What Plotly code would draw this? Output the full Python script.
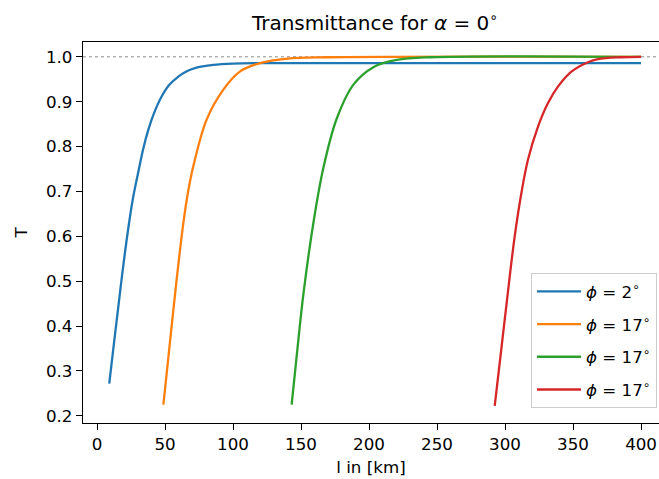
import plotly.graph_objects as go

# Transmittance curves T(l) for alpha = 0 deg, one per observation angle phi
labels = ["<i>ϕ</i> = 2<sup>∘</sup>", "<i>ϕ</i> = 17<sup>∘</sup>",
          "<i>ϕ</i> = 17<sup>∘</sup>", "<i>ϕ</i> = 17<sup>∘</sup>"]
colors = ["#1f77b4", "#ff7f0e", "#2ca02c", "#d62728"]

l_blue = [9, 12, 15.7, 19, 23, 26.5, 30.4, 34, 37.7, 42, 47.6, 53, 59.8, 66, 72, 85.5, 100, 120, 400]
t_blue = [0.272, 0.350, 0.444, 0.527, 0.618, 0.686, 0.744, 0.795, 0.837, 0.875, 0.912, 0.937,
          0.956, 0.968, 0.975, 0.982, 0.985, 0.986, 0.986]

l_orange = [48.8, 53.7, 58.6, 63.5, 67, 70.8, 80.6, 92.9, 105, 119.9, 140, 170, 400]
t_orange = [0.225, 0.366, 0.505, 0.630, 0.700, 0.756, 0.860, 0.927, 0.967, 0.986, 0.996, 0.999, 1.0]

l_green = [143.1, 146.8, 151.7, 159, 166.4, 176.2, 188.5, 203.2, 220.4, 245, 400]
t_green = [0.225, 0.333, 0.470, 0.628, 0.752, 0.862, 0.938, 0.977, 0.993, 0.999, 1.0]

l_red = [292.4, 297.3, 302.2, 307.1, 312, 316.9, 324.3, 331.6, 339, 348.8, 361, 368.4, 385, 400]
t_red = [0.222, 0.350, 0.478, 0.600, 0.696, 0.771, 0.845, 0.897, 0.934, 0.967, 0.988, 0.995, 0.999, 1.0]

x_ticks = [0, 50, 100, 150, 200, 250, 300, 350, 400]
y_ticks = [0.2, 0.3, 0.4, 0.5, 0.6, 0.7, 0.8, 0.9, 1.0]

series = [(l_blue, t_blue), (l_orange, t_orange), (l_green, t_green), (l_red, t_red)]

FONT = "DejaVu Sans"
fig = go.Figure()
for i, ((lx, ty), name, c) in enumerate(zip(series, labels, colors)):
    fig.add_trace(go.Scatter(
        x=lx, y=ty, mode="lines", name=name, legendgroup=f"g{i}",
        line=dict(color=c, width=2.3, shape="spline", smoothing=1.0),
    ))

# reference line at full transmittance
fig.add_shape(type="line", xref="paper", yref="y", x0=0, x1=1, y0=1.0, y1=1.0,
              line=dict(color="#707070", width=0.8, dash="dot"), layer="below")

fig.update_layout(
    width=659, height=479,
    margin=dict(l=83, r=0, t=42, b=56),
    paper_bgcolor="white", plot_bgcolor="white",
    font=dict(family=FONT, size=16.7, color="black"),
    title=dict(text="Transmittance for <i>α</i> = 0<sup>∘</sup>", xref="container", x=375 / 659,
               xanchor="center", y=1 - 23 / 479, yanchor="middle",
               font=dict(family=FONT, size=20, color="black")),
    showlegend=True,
    legend=dict(x=(531 - 83) / 576, y=(423 - 273) / 381, xanchor="left", yanchor="top",
                bgcolor="rgba(255,255,255,0.8)", bordercolor="#cccccc", borderwidth=1,
                font=dict(family=FONT, size=16.7, color="black"), tracegroupgap=8,
                itemwidth=44),
)
fig.update_xaxes(
    range=[-10.3, 413.2], tickvals=x_ticks, ticks="outside", ticklen=6, tickwidth=1.3,
    tickcolor="black", showline=True, linecolor="black", linewidth=1.3, mirror=True,
    showgrid=False, zeroline=False,
    title=dict(text="l in [km]", standoff=8, font=dict(family=FONT, size=16.7)),
)
fig.update_yaxes(
    range=[0.184, 1.033], tickvals=y_ticks, tickformat=".1f", ticks="outside", ticklen=6,
    tickwidth=1.3, tickcolor="black", showline=True, linecolor="black", linewidth=1.3,
    mirror=False, showgrid=False, zeroline=False,
    title=dict(text="T", standoff=14, font=dict(family=FONT, size=16.7)),
)

fig.write_html("out.html")
